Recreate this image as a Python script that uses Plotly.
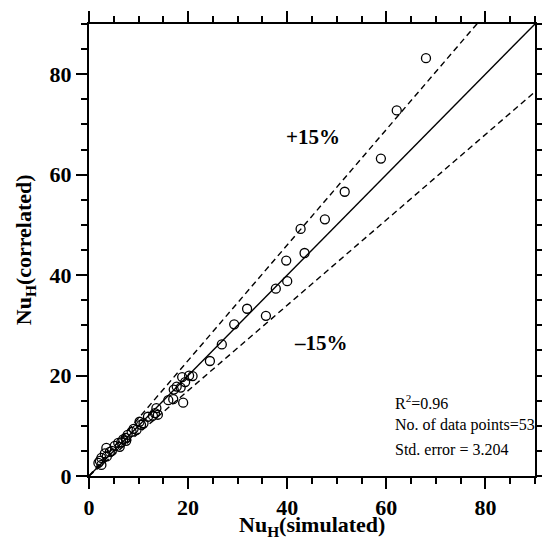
import plotly.graph_objects as go

# Data
nu_sim = [68.0, 62.1, 58.9, 51.6, 47.6, 42.7, 43.5, 39.8, 40.0, 37.7,
          31.9, 35.7, 29.3, 26.8, 24.4, 20.9, 18.8, 19.4, 17.7, 18.5,
          17.1, 16.0, 17.0, 19.0, 13.6, 13.3, 12.9, 13.9, 11.9, 11.0,
          10.5, 9.6, 9.0, 8.6, 7.8, 7.4, 6.9, 6.5, 5.9, 6.2,
          5.2, 4.6, 3.5, 4.2, 3.2, 3.6, 2.5, 2.2, 1.9, 2.5,
          7.5, 20.2, 10.2]
nu_cor = [83.2, 72.8, 63.2, 56.6, 51.1, 49.2, 44.4, 42.9, 38.8, 37.3,
          33.3, 31.9, 30.2, 26.2, 22.9, 19.9, 19.7, 18.7, 17.8, 17.6,
          17.2, 15.1, 15.3, 14.6, 13.5, 12.5, 12.0, 12.2, 11.8, 10.5,
          10.2, 9.2, 9.4, 8.8, 8.2, 7.6, 7.3, 6.7, 6.6, 5.8,
          6.0, 5.0, 5.6, 4.8, 4.5, 3.9, 3.6, 3.0, 2.6, 2.2,
          7.0, 20.0, 10.8]

line_x = [0, 90]
slope_exact = 1.0
slope_upper = 1.15
slope_lower = 0.85

tick_vals = [0, 20, 40, 60, 80]
tick_text = ["<b>0</b>", "<b>20</b>", "<b>40</b>", "<b>60</b>", "<b>80</b>"]

x_title = "<b>Nu<sub>H</sub>(simulated)</b>"
y_title = "<b>Nu<sub>H</sub>(correlated)</b>"
stats_text = ["R<sup>2</sup>=0.96", "No. of data points=53", "Std. error = 3.204"]

FONT = "Liberation Serif"

fig = go.Figure()

fig.add_trace(go.Scatter(x=line_x, y=[v * slope_exact for v in line_x], mode="lines",
                         line=dict(color="black", width=1.4), showlegend=False))
fig.add_trace(go.Scatter(x=line_x, y=[v * slope_upper for v in line_x], mode="lines",
                         line=dict(color="black", width=1.4, dash="6px,4px"), showlegend=False))
fig.add_trace(go.Scatter(x=line_x, y=[v * slope_lower for v in line_x], mode="lines",
                         line=dict(color="black", width=1.4, dash="6px,4px"), showlegend=False))
fig.add_trace(go.Scatter(x=nu_sim, y=nu_cor, mode="markers",
                         marker=dict(symbol="circle-open", size=9, color="black",
                                     line=dict(width=1.3, color="black")),
                         showlegend=False))

axis_common = dict(range=[0, 90], showgrid=False, zeroline=False,
                   showline=True, linecolor="black", linewidth=2, mirror="allticks",
                   ticks="outside", ticklen=11, tickwidth=2, tickcolor="black",
                   tickvals=tick_vals, ticktext=tick_text,
                   minor=dict(dtick=5, tick0=0,
                              ticks="outside", ticklen=6, tickwidth=1.8,
                              tickcolor="black", showgrid=False),
                   tickfont=dict(family=FONT, size=22, color="black"))

fig.update_xaxes(**axis_common)
fig.update_yaxes(**axis_common)

annotations = [
    dict(x=0.5, y=-0.11, xref="x domain", yref="y domain", text=x_title,
         showarrow=False, xanchor="center", yanchor="middle",
         font=dict(family=FONT, size=22, color="black")),
    dict(x=-0.143, y=0.5, xref="x domain", yref="y domain", text=y_title,
         showarrow=False, xanchor="center", yanchor="middle", textangle=-90,
         font=dict(family=FONT, size=22, color="black")),
    dict(x=45.1, y=67.6, text="<b>+15%</b>", showarrow=False, xref="x", yref="y",
         font=dict(family=FONT, size=21, color="black")),
    dict(x=46.8, y=26.4, text="<b>–15%</b>", showarrow=False, xref="x", yref="y",
         font=dict(family=FONT, size=21, color="black")),
]
stat_y = [14.7, 10.1, 5.3]
for t, yy in zip(stats_text, stat_y):
    annotations.append(dict(x=61.4, y=yy, text=t, showarrow=False, xref="x", yref="y",
                            xanchor="left", yanchor="middle",
                            font=dict(family=FONT, size=16, color="black")))

fig.update_layout(
    width=542, height=539,
    margin=dict(l=89, r=7, t=24, b=63, autoexpand=False),
    paper_bgcolor="white", plot_bgcolor="white",
    font=dict(family=FONT, color="black"),
    annotations=annotations,
)

fig.write_html("out.html")
